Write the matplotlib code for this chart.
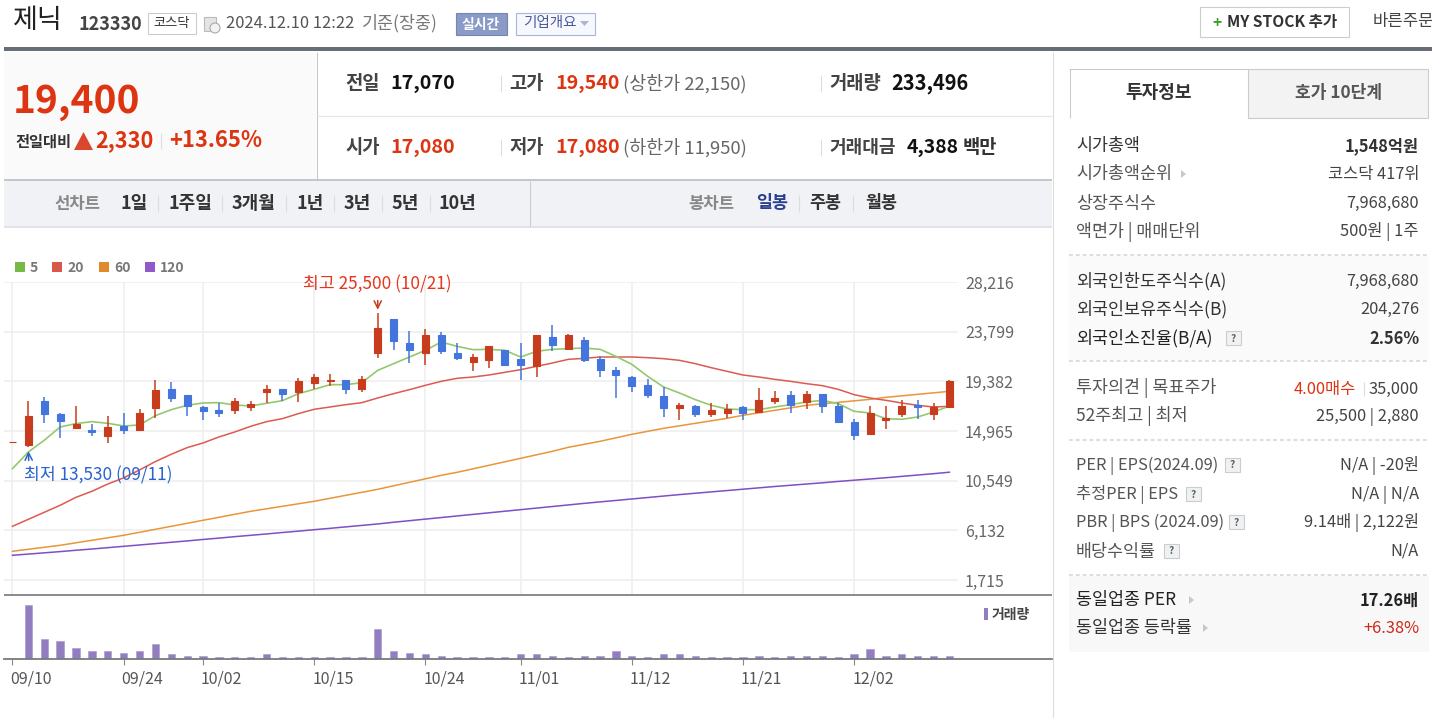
from __future__ import annotations

import matplotlib

matplotlib.use("Agg")

import matplotlib.pyplot as plt
from matplotlib.patches import Circle, Polygon, Rectangle
from matplotlib.transforms import ScaledTranslation

plt.rcParams["font.family"] = ["Noto Sans CJK KR", "DejaVu Sans"]


FIG_WIDTH = 1432
FIG_HEIGHT = 718
RED = "#c73c1c"
BLUE = "#4475dc"
TEXT_RED = "#dd3511"

TICK_INDEX = [0, 7, 12, 19, 26, 32, 39, 46, 53]
TICK_LABELS = ["09/10", "09/24", "10/02", "10/15", "10/24", "11/01", "11/12", "11/21", "12/02"]
PRICE_TICKS = [1715, 6132, 10549, 14965, 19382, 23799, 28216]

OPENS = [
    13990, 13754, 17606, 16510, 15265, 15058, 14494, 15383, 15087, 17013,
    18672, 18139, 17072, 16806, 16865, 17102, 18435, 18672, 18435, 19235,
    19383, 19472, 18702, 21902, 24924, 22791, 21902, 23472, 21872, 21131,
    21250, 22139, 21339, 20776, 23324, 22257, 23057, 21339, 20391, 19739,
    19057, 18109, 16983, 17190, 16479, 16597, 17071, 16686, 17605, 18138,
    17516, 18257, 17190, 15738, 14730, 15945, 16449, 17249, 16449, 17080,
]
HIGHS = [
    13990, 17635, 17991, 16570, 17220, 15620, 16302, 16570, 16924, 19472,
    19354, 18139, 17161, 17457, 17872, 17635, 19058, 18672, 19709, 20006,
    20006, 19472, 19887, 25500, 24924, 23857, 24006, 23768, 22791, 21843,
    22524, 22139, 22820, 23472, 24391, 23620, 23324, 21605, 20657, 19857,
    19620, 18880, 17457, 17308, 17486, 17338, 17190, 18819, 18553, 18523,
    18523, 18286, 17486, 16005, 17219, 17219, 17693, 17723, 17486, 19540,
]
LOWS = [
    13990, 13530, 15680, 14346, 15265, 14494, 13932, 14731, 14968, 16154,
    17517, 16302, 15917, 16213, 16450, 16717, 17457, 17665, 17517, 18731,
    19000, 18287, 18435, 21487, 22198, 21013, 20835, 21843, 21250, 20302,
    20569, 20717, 19531, 19768, 22050, 22198, 21102, 19768, 17931, 18435,
    17902, 16183, 15917, 16212, 16212, 16153, 15916, 16686, 17367, 16597,
    16953, 16597, 15797, 14197, 14582, 15116, 16212, 16064, 15916, 17080,
]
CLOSES = [
    13990, 16272, 16480, 15828, 15590, 14850, 15324, 15087, 16539, 18643,
    17931, 17220, 16717, 16598, 17606, 17369, 18672, 18228, 19443, 19739,
    19502, 18731, 19591, 24154, 22998, 22198, 23472, 22050, 21487, 21576,
    22524, 20865, 20865, 23472, 22583, 23472, 21250, 20361, 19917, 18998,
    18198, 16983, 17309, 16449, 16805, 16923, 16597, 17723, 17901, 17249,
    18257, 17160, 15797, 14582, 16538, 16123, 17219, 17130, 17071, 19400,
]
MA5 = [
    11620, 13102, 14139, 15324, 15620, 15798, 15650, 15413, 15502, 16332,
    16865, 17250, 17457, 17487, 17280, 17191, 17428, 17665, 18287, 18672,
    19087, 19087, 19265, 20361, 20953, 21546, 22139, 22880, 22494, 22198,
    22228, 22139, 21546, 22050, 22228, 22287, 22346, 22228, 21605, 20894,
    19827, 18880, 18346, 17753, 17249, 16923, 16864, 16864, 17101, 17308,
    17545, 17693, 17397, 16716, 16568, 16064, 16005, 16212, 16656, 17190,
]
MA20 = [
    6490, 7114, 7736, 8358, 9070, 9603, 10250, 10800, 11500, 12250,
    12900, 13487, 13902, 14435, 14880, 15383, 15798, 16065, 16509, 16895,
    17102, 17309, 17487, 17902, 18287, 18642, 19028, 19383, 19650, 19768,
    19946, 20183, 20420, 20717, 21013, 21339, 21428, 21546, 21546, 21546,
    21487, 21398, 21250, 20953, 20597, 20271, 19945, 19768, 19560, 19382,
    19175, 18997, 18671, 18197, 17901, 17693, 17456, 17249, 17101, 17160,
]
MA60 = [
    4269, 4447, 4625, 4802, 5025, 5247, 5469, 5691, 5958, 6225,
    6491, 6758, 7025, 7292, 7558, 7825, 8047, 8270, 8492, 8714,
    8981, 9247, 9514, 9781, 10092, 10403, 10714, 11025, 11292, 11603,
    11914, 12225, 12537, 12848, 13159, 13515, 13781, 14048, 14359, 14670,
    14937, 15204, 15426, 15648, 15870, 16093, 16360, 16582, 16804, 17026,
    17248, 17382, 17515, 17648, 17782, 17960, 18093, 18226, 18360, 18493,
]
MA120 = [
    3913, 4020, 4130, 4240, 4360, 4470, 4590, 4710, 4830, 4950,
    5070, 5190, 5320, 5440, 5570, 5690, 5810, 5940, 6060, 6190,
    6310, 6440, 6570, 6700, 6850, 6990, 7130, 7270, 7410, 7550,
    7690, 7830, 7970, 8110, 8250, 8390, 8530, 8660, 8790, 8920,
    9050, 9180, 9310, 9430, 9550, 9670, 9790, 9910, 10030, 10140,
    10250, 10360, 10480, 10590, 10700, 10810, 10930, 11050, 11170, 11300,
]
VOLUMES = [
    0, 3700000, 1340000, 1250000, 727000, 523000, 523000, 430000, 523000, 1040000,
    320000, 204000, 227000, 113000, 113000, 113000, 320000, 113000, 113000, 113000,
    113000, 113000, 113000, 2060000, 523000, 430000, 320000, 227000, 113000, 113000,
    113000, 113000, 326000, 326000, 233000, 117000, 233000, 233000, 539000, 233000,
    117000, 326000, 326000, 233000, 117000, 117000, 117000, 233000, 117000, 233000,
    233000, 233000, 117000, 326000, 656000, 233000, 326000, 233000, 233000, 233496,
]


def axes_rect(left: float, top: float, right: float, bottom: float) -> list[float]:
    return [
        left / FIG_WIDTH,
        1 - bottom / FIG_HEIGHT,
        (right - left) / FIG_WIDTH,
        (bottom - top) / FIG_HEIGHT,
    ]


def add_box(ax: plt.Axes, x0: float, y0: float, x1: float, y1: float, face: str = "none", edge: str = "none") -> None:
    ax.add_patch(Rectangle((x0, y0), x1 - x0, y1 - y0, facecolor=face, edgecolor=edge, linewidth=0.8))


def add_line(ax: plt.Axes, x0: float, y0: float, x1: float, y1: float, color: str = "#dddddd", width: float = 0.8, style: str = "-") -> None:
    ax.plot([x0, x1], [y0, y1], color=color, lw=width, ls=style, solid_capstyle="butt")


def add_text(ax: plt.Axes, x: float, y: float, text: str, size: float = 11, color: str = "#444444", weight: str = "normal", ha: str = "left") -> None:
    ax.text(x, y + 1.5, text, fontsize=size, color=color, fontweight=weight, ha=ha, va="center")


def add_help_icon(ax: plt.Axes, x: float, y: float) -> None:
    add_box(ax, x, y - 7, x + 15, y + 7, face="#f0f2f2", edge="#cccccc")
    add_text(ax, x + 7.5, y - 1, "?", size=7.5, color="#556070", weight="bold", ha="center")


def add_arrow_mark(ax: plt.Axes, x: float, y: float) -> None:
    ax.add_patch(Polygon([(x, y - 4), (x + 5, y), (x, y + 4)], facecolor="#c8c8c8", edgecolor="none"))


def add_header(ax: plt.Axes) -> None:
    add_text(ax, 13, 19, "제닉", size=19.5, color="#222222")
    add_text(ax, 79, 23, "123330", size=13, color="#444444", weight="bold")
    add_box(ax, 147.5, 12.5, 196, 34, face="white", edge="#cccccc")
    add_text(ax, 171.5, 22, "코스닥", size=9.5, color="#333333", ha="center")
    add_box(ax, 204, 17, 216, 31, face="#e4e4e4", edge="#bbbbbb")
    ax.add_patch(Circle((215, 28), 5, facecolor="#f2f2f2", edgecolor="#aaaaaa", linewidth=0.8))
    add_text(ax, 226, 22, "2024.12.10 12:22", size=11.9, color="#555555")
    add_text(ax, 362, 22, "기준(장중)", size=12.5, color="#777777")
    add_box(ax, 455.5, 13, 507, 35, face="#8b9bc8", edge="#7585b5")
    add_text(ax, 481, 23, "실시간", size=10, color="white", weight="bold", ha="center")
    add_box(ax, 515.5, 13, 595, 35, face="#f6f8fd", edge="#a9b5d8")
    add_text(ax, 523, 22, "기업개요", size=10.5, color="#4a5a9a")
    ax.add_patch(Polygon([(580, 21), (589, 21), (584.5, 26)], facecolor="#a9b5d8", edgecolor="none"))
    add_box(ax, 1199.5, 6.5, 1349, 37, face="white", edge="#cccccc")
    add_text(ax, 1212, 21, "+", size=11, color="#3c9a2a", weight="bold")
    add_text(ax, 1227, 21, "MY STOCK 추가", size=11.2, color="#333333", weight="bold")
    add_text(ax, 1373, 20, "바른주문", size=12, color="#444444")
    add_box(ax, 4, 47, 1432, 51, face="#676e78")


def add_quote_panel(ax: plt.Axes) -> None:
    add_box(ax, 4, 52, 316, 179, face="#fafafa")
    add_line(ax, 316.5, 52, 316.5, 180, color="#c8c8c8")
    add_line(ax, 317, 116, 1052, 116, color="#e6e6e6")
    add_line(ax, 1053, 52, 1053, 718, color="#dddddd")
    add_text(ax, 13, 100, "19,400", size=28, color=TEXT_RED, weight="bold")
    add_text(ax, 15, 140, "전일대비", size=11, color="#333333", weight="bold")
    ax.add_patch(Polygon([(74, 150), (83.5, 132), (93, 150)], facecolor="#d9482c", edgecolor="none"))
    add_text(ax, 95, 139, "2,330", size=15.7, color=TEXT_RED, weight="bold")
    add_line(ax, 160.5, 133, 160.5, 149)
    add_text(ax, 169, 139, "+13.65%", size=15.8, color=TEXT_RED, weight="bold")

    add_text(ax, 345, 82, "전일", size=13.5, weight="bold")
    add_text(ax, 390, 82, "17,070", size=14.2, color="#111111", weight="bold")
    add_line(ax, 500.5, 75, 500.5, 92)
    add_text(ax, 509, 82, "고가", size=13.5, weight="bold")
    add_text(ax, 555, 82, "19,540", size=14.2, color=TEXT_RED, weight="bold")
    add_text(ax, 623, 82, "(상한가 22,150)", size=13.3, color="#666666")
    add_line(ax, 820.5, 75, 820.5, 92)
    add_text(ax, 829, 82, "거래량", size=13.5, weight="bold")
    add_text(ax, 891, 82, "233,496", size=14.4, color="#111111", weight="bold")

    add_text(ax, 345, 146, "시가", size=13.5, weight="bold")
    add_text(ax, 390, 146, "17,080", size=14.2, color=TEXT_RED, weight="bold")
    add_line(ax, 500.5, 139, 500.5, 156)
    add_text(ax, 509, 146, "저가", size=13.5, weight="bold")
    add_text(ax, 555, 146, "17,080", size=14.2, color=TEXT_RED, weight="bold")
    add_text(ax, 623, 146, "(하한가 11,950)", size=13.3, color="#666666")
    add_line(ax, 820.5, 139, 820.5, 156)
    add_text(ax, 829, 146, "거래대금", size=13, weight="bold")
    add_text(ax, 907, 146, "4,388", size=14, color="#111111", weight="bold")
    add_text(ax, 963, 146, "백만", size=13.5, color="#333333", weight="bold")


def add_menu_band(ax: plt.Axes) -> None:
    add_box(ax, 4, 181, 1052, 226, face="#f1f2f6")
    add_line(ax, 4, 180, 1052, 180, color="#b8bcc4", width=1.2)
    add_line(ax, 4, 226.5, 1052, 226.5, color="#dcdee4", width=1.2)
    add_line(ax, 529.5, 181, 529.5, 226, color="#c8ccd4")
    add_text(ax, 54, 202, "선차트", size=12, color="#888888", weight="bold")
    for x, label in zip([120, 168, 232, 296, 344, 392, 439], ["1일", "1주일", "3개월", "1년", "3년", "5년", "10년"]):
        add_text(ax, x, 202, label, size=13, color="#333333", weight="bold")
    for x in [157, 221, 285, 333, 381, 429, 798, 852]:
        add_line(ax, x + 0.5, 195, x + 0.5, 212)
    add_text(ax, 688, 202, "봉차트", size=12, color="#888888", weight="bold")
    add_text(ax, 756, 202, "일봉", size=12.5, color="#2b3f8f", weight="bold")
    add_text(ax, 809, 202, "주봉", size=12.5, color="#333333", weight="bold")
    add_text(ax, 865, 202, "월봉", size=12.5, color="#333333", weight="bold")


def add_chart_legend(ax: plt.Axes) -> None:
    # moving average keys above the chart, volume key in the lower panel
    for x, label, color in zip(
        [15, 52, 99, 145],
        ["5", "20", "60", "120"],
        ["#76b947", "#d9564a", "#e08a2e", "#9159c9"],
    ):
        add_box(ax, x, 262, x + 10, 272, face=color)
        add_text(ax, x + 15, 266, label, size=10, color="#777777", weight="bold")
    add_box(ax, 983.5, 608, 988, 620, face="#917dbf")
    add_text(ax, 992, 613, "거래량", size=10, color="#444444", weight="bold")


def add_side_row(ax: plt.Axes, y: float, label: str, value: str, bold: bool = False, label_color: str = "#555555", value_color: str = "#444444", label_size: float = 12.5) -> None:
    weight = "bold" if bold else "normal"
    add_text(ax, 1076, y, label, size=label_size, color=label_color)
    add_text(ax, 1419, y, value, size=11.8, color=value_color, weight=weight, ha="right")


def add_side_panel(ax: plt.Axes) -> None:
    add_box(ax, 1069, 256, 1429, 360, face="#fafafa")
    add_box(ax, 1069, 576, 1429, 652, face="#f8f8f8")
    add_box(ax, 1248, 69, 1428, 118, face="#f3f3f3", edge="#cccccc")
    add_line(ax, 1069, 69, 1248, 69, color="#cccccc")
    add_line(ax, 1069.5, 69, 1069.5, 118, color="#cccccc")
    add_text(ax, 1159, 91, "투자정보", size=13, color="#333333", weight="bold", ha="center")
    add_text(ax, 1339, 91, "호가 10단계", size=12.3, color="#555555", weight="bold", ha="center")

    add_side_row(ax, 145, "시가총액", "1,548억원", bold=True, label_color="#333333", value_color="#333333")
    add_side_row(ax, 173, "시가총액순위", "코스닥 417위")
    add_arrow_mark(ax, 1181, 174)
    add_side_row(ax, 202, "상장주식수", "7,968,680")
    add_side_row(ax, 230, "액면가 | 매매단위", "500원 | 1주")

    add_side_row(ax, 280, "외국인한도주식수(A)", "7,968,680", label_color="#333333")
    add_side_row(ax, 308, "외국인보유주식수(B)", "204,276", label_color="#333333")
    add_side_row(ax, 337, "외국인소진율(B/A)", "2.56%", bold=True, label_color="#222222", value_color="#333333")
    add_help_icon(ax, 1226, 338)

    add_text(ax, 1076, 387, "투자의견 | 목표주가", size=12.5, color="#555555")
    add_text(ax, 1419, 388, "35,000", size=11.8, ha="right")
    add_line(ax, 1363.5, 382, 1363.5, 396)
    add_text(ax, 1356, 388, "4.00매수", size=11.8, color=TEXT_RED, ha="right")
    add_side_row(ax, 415, "52주최고 | 최저", "25,500 | 2,880")

    add_side_row(ax, 464, "PER | EPS(2024.09)", "N/A | -20원", label_size=11.8)
    add_help_icon(ax, 1225, 465)
    add_side_row(ax, 493, "추정PER | EPS", "N/A | N/A", label_size=11.8)
    add_help_icon(ax, 1186, 494)
    add_side_row(ax, 521, "PBR | BPS (2024.09)", "9.14배 | 2,122원", label_size=11.8)
    add_help_icon(ax, 1229, 522)
    add_side_row(ax, 550, "배당수익률", "N/A")
    add_help_icon(ax, 1164, 551)

    add_side_row(ax, 599, "동일업종 PER", "17.26배", bold=True, label_color="#222222", value_color="#222222")
    add_arrow_mark(ax, 1189, 600)
    add_side_row(ax, 627, "동일업종 등락률", "+6.38%", label_color="#333333", value_color="#cc2a1a")
    add_arrow_mark(ax, 1203, 628)

    for y in [255, 361, 440, 575]:
        add_line(ax, 1069, y, 1429, y, color="#dddddd", width=1.4, style=(0, (2, 1.5)))


def draw_price_panel(ax: plt.Axes) -> None:
    x_values = list(range(len(CLOSES)))
    colors = [RED if close >= open_ else BLUE for open_, close in zip(OPENS, CLOSES)]
    ax.vlines(x_values, LOWS, HIGHS, colors=colors, linewidth=1.1, zorder=3)
    ax.bar(
        x_values,
        [close - open_ for open_, close in zip(OPENS, CLOSES)],
        bottom=OPENS,
        width=0.44,
        color=colors,
        edgecolor=colors,
        linewidth=0.8,
        zorder=4,
    )
    ax.plot(x_values, MA120, color="#7e4fc6", lw=1.1, zorder=2)
    ax.plot(x_values, MA60, color="#e8963a", lw=1.1, zorder=2)
    ax.plot(x_values, MA20, color="#dc5a52", lw=1.1, zorder=2)
    ax.plot(x_values, MA5, color="#93c96e", lw=1.2, zorder=2)

    ax.set_xlim(-0.535, 59.54)
    ax.set_ylim(470, 28216)
    ax.set_xticks(TICK_INDEX)
    ax.set_yticks(PRICE_TICKS)
    ax.set_yticklabels([f"{tick:,}" for tick in PRICE_TICKS], fontsize=11.5, color="#666666")
    ax.yaxis.tick_right()
    ax.tick_params(axis="x", length=0, labelbottom=False)
    ax.tick_params(axis="y", length=0, pad=5)
    ax.grid(color="#eeeeee", linewidth=1.1)
    ax.set_axisbelow(True)
    for name in ["top", "left", "right", "bottom"]:
        ax.spines[name].set_visible(False)

    ax.annotate(
        "최고 25,500 (10/21)",
        xy=(23, 25500),
        xytext=(0, 28),
        textcoords="offset pixels",
        fontsize=12.4,
        color="#e8341c",
        ha="center",
        va="center",
        arrowprops={"arrowstyle": "->", "color": "#c73c1c", "lw": 1.1, "mutation_scale": 13, "shrinkA": 3, "shrinkB": 2},
    )
    ax.annotate(
        "최저 13,530 (09/11)",
        xy=(1, 13530),
        xytext=(-4, -28),
        textcoords="offset pixels",
        fontsize=12.4,
        color="#2a62d0",
        ha="left",
        va="center",
        arrowprops={"arrowstyle": "->", "color": "#2a62d0", "lw": 1.1, "mutation_scale": 13, "shrinkA": 2, "shrinkB": 3, "relpos": (0.03, 1)},
    )


def draw_volume_panel(ax: plt.Axes, fig: plt.Figure) -> None:
    ax.bar(range(len(VOLUMES)), VOLUMES, width=0.46, color="#917dbf", edgecolor="#a596cc", linewidth=0.4)
    ax.set_xlim(-0.535, 65.46)
    ax.set_ylim(0, 4284000)
    ax.set_yticks([])
    ax.set_xticks(TICK_INDEX)
    ax.set_xticklabels(TICK_LABELS, fontsize=11.5, color="#555555", ha="left")
    ax.tick_params(axis="x", length=4.5, width=0.8, color="#888888", pad=4)
    shift = ScaledTranslation(-2 / 100, 0, fig.dpi_scale_trans)  # labels start just left of the tick
    for label in ax.get_xticklabels():
        label.set_transform(label.get_transform() + shift)
    for name in ["top", "left", "right"]:
        ax.spines[name].set_visible(False)
    ax.spines["bottom"].set_color("#7a7a7a")
    ax.spines["bottom"].set_linewidth(1.3)


def make_chart(output_path: str) -> None:
    fig = plt.figure(figsize=(FIG_WIDTH / 100, FIG_HEIGHT / 100), dpi=100)

    page = fig.add_axes([0, 0, 1, 1], zorder=0)
    page.set_xlim(0, FIG_WIDTH)
    page.set_ylim(FIG_HEIGHT, 0)
    page.axis("off")
    add_header(page)
    add_quote_panel(page)
    add_menu_band(page)
    add_chart_legend(page)
    add_side_panel(page)
    add_line(page, 4, 595, 1052, 595, color="#8a8a8a", width=1.4)

    price_ax = fig.add_axes(axes_rect(4, 282, 958, 594), zorder=1, facecolor="none")
    draw_price_panel(price_ax)

    volume_ax = fig.add_axes(axes_rect(4, 596, 1052, 659), zorder=1, facecolor="none")
    draw_volume_panel(volume_ax, fig)

    fig.savefig(output_path, dpi=100)
    plt.close(fig)


def main() -> None:
    output_path = "out.png"
    make_chart(output_path)
    print(f"Saved chart: {output_path}")


if __name__ == "__main__":
    main()
